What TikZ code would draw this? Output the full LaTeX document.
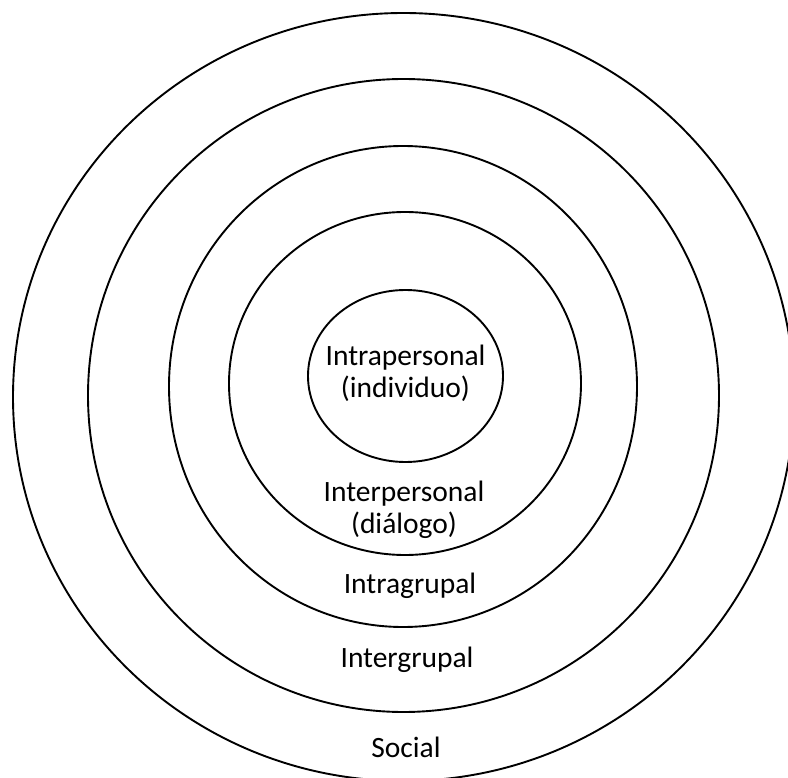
\documentclass[tikz,border=0pt]{standalone}
\usepackage{fontspec}
\setmainfont{Carlito}
\usetikzlibrary{shapes.geometric}
\tikzstyle{ring}=[draw, ellipse, line width=1.9pt, inner sep=0pt]
\tikzstyle{lbl}=[font=\fontsize{29.5}{32}\selectfont, align=center, inner sep=0pt, anchor=base]

\begin{document}
\begin{tikzpicture}[x=1pt, y=-1pt]
    \useasboundingbox (0,0) rectangle (788,778);
    \node [ring, minimum width=781pt, minimum height=768pt] (social) at (403.5,397) {};
    \node [ring, minimum width=631pt, minimum height=633pt] (inter) at (403.5,395.5) {};
    \node [ring, minimum width=468pt, minimum height=481pt] (intra) at (403,386.5) {};
    \node [ring, minimum width=352pt, minimum height=343pt] (dialogo) at (405,383.5) {};
    \node [ring, minimum width=195pt, minimum height=172pt] (individuo) at (405.5,376) {};
    \node [lbl] (l1) at (405.5,397) {Intrapersonal\\(individuo)};
    \node [lbl] (l2) at (404,533) {Interpersonal\\(diálogo)};
    \node [lbl] (l3) at (410,593) {Intragrupal};
    \node [lbl] (l4) at (407,667) {Intergrupal};
    \node [lbl] (l5) at (406,757) {Social};
\end{tikzpicture}
\end{document}
